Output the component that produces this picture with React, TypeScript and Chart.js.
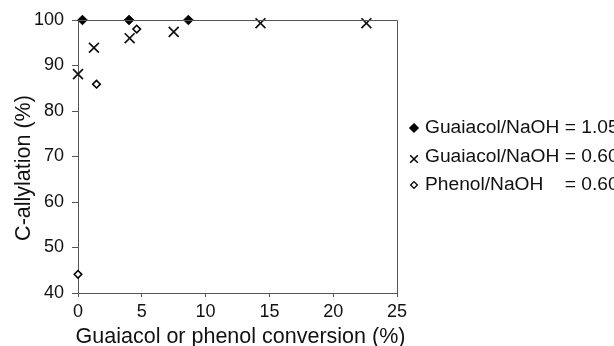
import React, { useEffect, useRef } from "react";
import { Chart, registerables } from "chart.js";

Chart.register(...registerables);

const seriesLabels = ["Guaiacol/NaOH = 1.05", "Guaiacol/NaOH = 0.60", "Phenol/NaOH    = 0.60"];
const legendLeft = ["Guaiacol/NaOH", "Guaiacol/NaOH", "Phenol/NaOH"];
const legendRight = ["= 1.05", "= 0.60", "= 0.60"];
const xTitle = "Guaiacol or phenol conversion (%)";
const yTitle = "C-allylation (%)";

const g105X = [0.35, 4.0, 8.65];
const g105Y = [100, 100, 100];
const g060X = [0.0, 1.25, 4.05, 7.5, 14.3, 22.6];
const g060Y = [88.1, 93.9, 96.0, 97.4, 99.3, 99.3];
const phX = [0.0, 1.45, 4.6];
const phY = [44.1, 85.9, 98.0];

const xTicks = [0, 5, 10, 15, 20, 25];
const yTicks = [40, 50, 60, 70, 80, 90, 100];

const FONT = "'Liberation Sans', Arial, Helvetica, sans-serif";
const TEXT = "#111111";
const AXIS = "#555555";

const toPts = (xs: number[], ys: number[]) => xs.map((x, i) => ({ x, y: ys[i] }));

const boxPlugin = {
  id: "box",
  afterDraw(chart: any) {
    const { ctx, chartArea } = chart;
    ctx.save();
    ctx.strokeStyle = AXIS;
    ctx.lineWidth = 1;
    ctx.beginPath();
    ctx.moveTo(chartArea.left, chartArea.top + 0.5);
    ctx.lineTo(chartArea.right + 0.5, chartArea.top + 0.5);
    ctx.lineTo(chartArea.right + 0.5, chartArea.bottom);
    ctx.stroke();
    ctx.restore();
  },
};

const titlePlugin = {
  id: "titles",
  afterDraw(chart: any) {
    const { ctx, chartArea } = chart;
    ctx.save();
    ctx.fillStyle = TEXT;
    ctx.font = `21.5px ${FONT}`;
    ctx.textAlign = "center";
    ctx.textBaseline = "alphabetic";
    ctx.fillText(xTitle, (chartArea.left + chartArea.right) / 2 + 3, 343);
    ctx.translate(30, 168);
    ctx.rotate(-Math.PI / 2);
    ctx.fillText(yTitle, 0, 0);
    ctx.restore();
  },
};

const legendPlugin = {
  id: "customLegend",
  afterDraw(chart: any) {
    const { ctx } = chart;
    const mx = 414;
    const tx = 425;
    const rows = [128, 157, 185];
    ctx.save();
    ctx.font = `19.2px ${FONT}`;
    ctx.textBaseline = "middle";
    ctx.fillStyle = TEXT;
    const eqX = tx + ctx.measureText(legendLeft[0] + " ").width;
    rows.forEach((y, i) => {
      ctx.save();
      ctx.strokeStyle = "#000";
      ctx.fillStyle = i === 0 ? "#000" : "#fff";
      ctx.lineWidth = 1.3;
      if (i === 0 || i === 2) {
        const r = i === 0 ? 4.2 : 3.4;
        ctx.beginPath();
        ctx.moveTo(mx, y - r);
        ctx.lineTo(mx + r, y);
        ctx.lineTo(mx, y + r);
        ctx.lineTo(mx - r, y);
        ctx.closePath();
        ctx.fill();
        ctx.stroke();
      } else {
        const r = 3.8;
        const cy = y + 2;
        ctx.lineWidth = 1.5;
        ctx.beginPath();
        ctx.moveTo(mx - r, cy - r);
        ctx.lineTo(mx + r, cy + r);
        ctx.moveTo(mx + r, cy - r);
        ctx.lineTo(mx - r, cy + r);
        ctx.stroke();
      }
      ctx.restore();
      ctx.fillStyle = TEXT;
      ctx.fillText(legendLeft[i], tx, y);
      ctx.fillText(legendRight[i], eqX, y);
    });
    ctx.restore();
  },
};

export default function App() {
  const ref = useRef<HTMLCanvasElement | null>(null);
  useEffect(() => {
    if (!ref.current) return;
    const chart = new Chart(ref.current, {
      type: "scatter",
      data: {
        datasets: [
          {
            label: seriesLabels[0],
            data: toPts(g105X, g105Y),
            pointStyle: "rectRot",
            pointRadius: 4.8,
            backgroundColor: "#000",
            borderColor: "#000",
            borderWidth: 1,
            clip: false,
          } as any,
          {
            label: seriesLabels[1],
            data: toPts(g060X, g060Y),
            pointStyle: "crossRot",
            pointRadius: 7,
            backgroundColor: "#000",
            borderColor: "#111",
            borderWidth: 1.7,
            clip: false,
          } as any,
          {
            label: seriesLabels[2],
            data: toPts(phX, phY),
            pointStyle: "rectRot",
            pointRadius: 3.8,
            backgroundColor: "#fff",
            borderColor: "#000",
            borderWidth: 1.5,
            clip: false,
          } as any,
        ],
      },
      options: {
        animation: false,
        responsive: false,
        maintainAspectRatio: false,
        layout: { padding: { top: 20, right: 217, left: 0, bottom: 0 } },
        plugins: { legend: { display: false }, tooltip: { enabled: false } },
        scales: {
          x: {
            type: "linear",
            min: 0,
            max: 25,
            afterBuildTicks: (s: any) => {
              s.ticks = xTicks.map((v) => ({ value: v }));
            },
            afterFit: (s: any) => {
              s.height = 53;
            },
            grid: { display: true, drawOnChartArea: false, drawTicks: true, tickLength: 4, color: AXIS },
            border: { display: true, color: AXIS, width: 1 },
            ticks: { color: TEXT, font: { family: FONT, size: 18 }, padding: 4, maxRotation: 0 },
            title: { display: false },
          },
          y: {
            type: "linear",
            min: 40,
            max: 100,
            afterBuildTicks: (s: any) => {
              s.ticks = yTicks.map((v) => ({ value: v }));
            },
            afterFit: (s: any) => {
              s.width = 78;
            },
            grid: { display: true, drawOnChartArea: false, drawTicks: true, tickLength: 6, color: AXIS },
            border: { display: true, color: AXIS, width: 1 },
            ticks: { color: TEXT, font: { family: FONT, size: 18 }, padding: 8 },
            title: { display: false },
          },
        },
      } as any,
      plugins: [boxPlugin, titlePlugin, legendPlugin],
    });
    return () => chart.destroy();
  }, []);
  return (
    <div style={{ position: "fixed", left: 0, top: 0, width: 614, height: 346, background: "#fff" }}>
      <canvas ref={ref} width={614} height={346} style={{ width: 614, height: 346, display: "block" }} />
    </div>
  );
}
